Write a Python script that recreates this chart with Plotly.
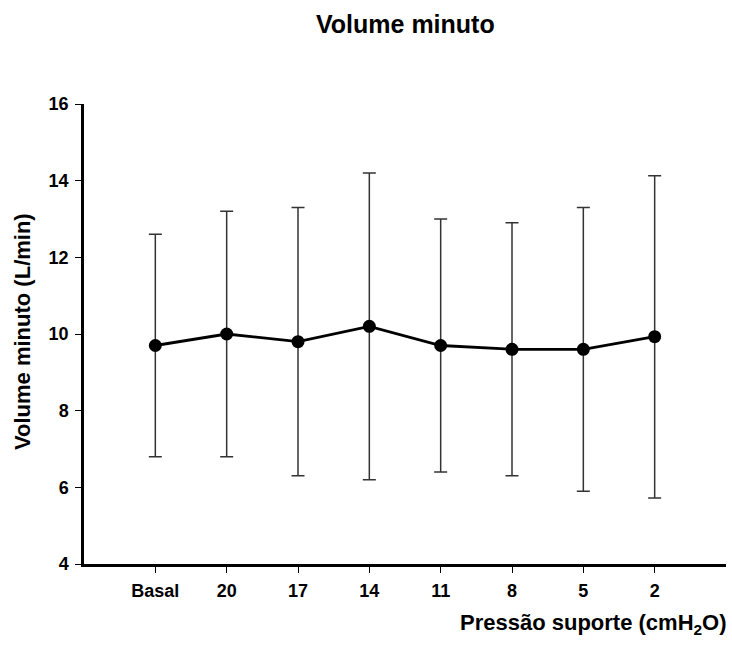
import plotly.graph_objects as go

# Minute ventilation across pressure-support levels (mean with upper/lower limits)
categories = ["Basal", "20", "17", "14", "11", "8", "5", "2"]
mean_values = [9.7, 10.0, 9.8, 10.2, 9.7, 9.6, 9.6, 9.93]
upper_values = [12.6, 13.2, 13.3, 14.2, 13.0, 12.9, 13.3, 14.13]
lower_values = [6.8, 6.8, 6.3, 6.2, 6.4, 6.3, 5.9, 5.72]
y_ticks = [4, 6, 8, 10, 12, 14, 16]

x_idx = list(range(len(categories)))
err_plus = [u - m for u, m in zip(upper_values, mean_values)]
err_minus = [m - l for m, l in zip(mean_values, lower_values)]

font_family = "Liberation Sans, Arial, sans-serif"

fig = go.Figure()
fig.add_trace(go.Scatter(
    x=x_idx,
    y=mean_values,
    mode="lines+markers",
    line=dict(color="black", width=2.8),
    marker=dict(color="black", size=13),
    error_y=dict(
        type="data",
        symmetric=False,
        array=err_plus,
        arrayminus=err_minus,
        color="#333333",
        thickness=1.5,
        width=6.5,
    ),
    showlegend=False,
    cliponaxis=False,
))

fig.update_layout(
    width=732,
    height=646,
    margin=dict(l=84, r=6, t=104, b=82),
    paper_bgcolor="white",
    plot_bgcolor="white",
    font=dict(family=font_family, color="black"),
    xaxis=dict(
        range=[-1, 8],
        tickmode="array",
        tickvals=x_idx,
        ticktext=[f"<b>{c}</b>" for c in categories],
        tickfont=dict(size=18),
        ticks="outside",
        ticklen=6,
        tickwidth=1,
        tickcolor="black",
        ticklabelstandoff=3,
        showline=True,
        linecolor="black",
        linewidth=2.5,
        showgrid=False,
        zeroline=False,
    ),
    yaxis=dict(
        range=[4, 16],
        tickmode="array",
        tickvals=y_ticks,
        ticktext=[f"<b>{v}</b>" for v in y_ticks],
        tickfont=dict(size=18),
        ticks="outside",
        ticklen=6,
        tickwidth=1,
        tickcolor="black",
        ticklabelstandoff=3,
        showline=True,
        linecolor="black",
        linewidth=2.5,
        showgrid=False,
        zeroline=False,
    ),
    annotations=[
        dict(
            text="<b>Volume minuto</b>",
            xref="paper", yref="paper",
            x=(405 - 84) / 642, y=1 + (104 - 24) / 460,
            xanchor="center", yanchor="middle",
            showarrow=False,
            font=dict(size=25, family=font_family),
        ),
        dict(
            text="<b>Volume minuto (L/min)</b>",
            xref="paper", yref="paper",
            x=-(84 - 22) / 642, y=(564 - 332) / 460,
            xanchor="center", yanchor="middle",
            textangle=-90,
            showarrow=False,
            font=dict(size=22, family=font_family),
        ),
        dict(
            text="<b>Pressão suporte (cmH<sub>2</sub>O)</b>",
            xref="paper", yref="paper",
            x=1 + (729 - 726) / 642, y=-(624 - 564) / 460,
            xanchor="right", yanchor="middle",
            showarrow=False,
            font=dict(size=22, family=font_family),
        ),
    ],
)

fig.write_html("out.html")
